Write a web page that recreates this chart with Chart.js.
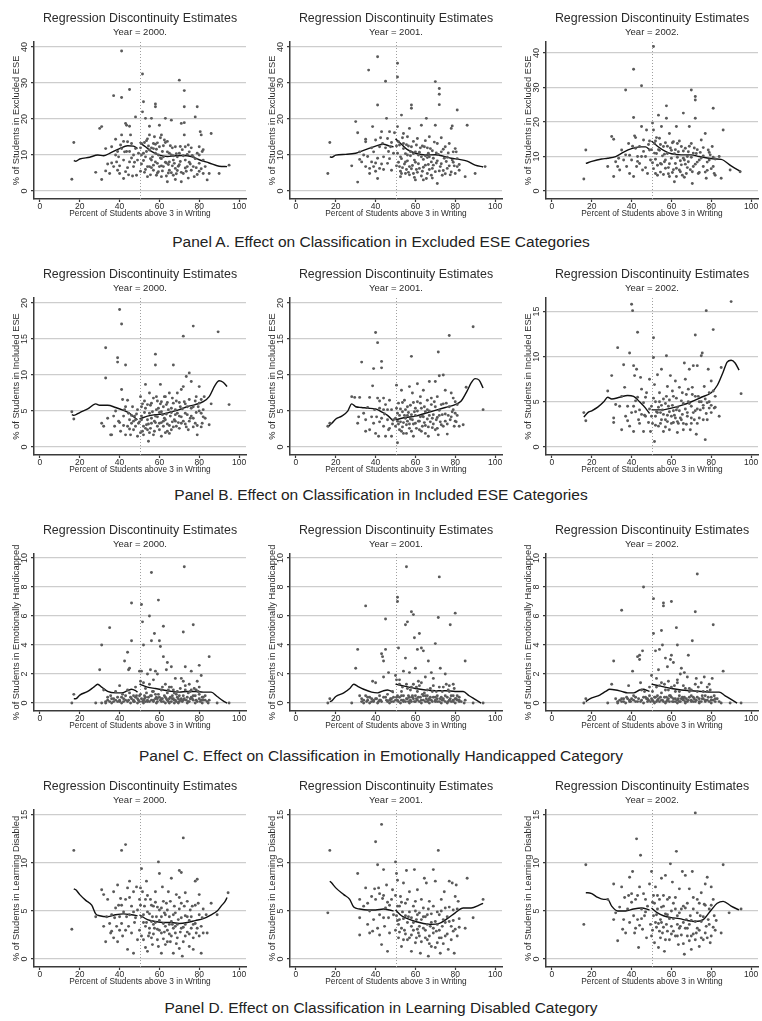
<!DOCTYPE html>
<html>
<head>
<meta charset="utf-8">
<script src="https://cdn.jsdelivr.net/npm/chart.js@4.4.0/dist/chart.umd.min.js"></script>
<style>
  body { margin: 0; background: #fff; width: 762px; height: 1021px; position: relative; overflow: hidden;
         font-family: "Liberation Sans", Arial, sans-serif; }
  canvas.plot { position: absolute; }
  .caption { position: absolute; left: 0; width: 762px; text-align: center; font-size: 15.5px; color: #222; }
</style>
</head>
<body>
<script>
// tick labels
const xTicks = [0, 20, 40, 60, 80, 100];
const yTicksExcl = [0, 10, 20, 30, 40];
const yTicksIncl = [0, 5, 10, 15, 20];
const yTicksIncl2002 = [0, 5, 10, 15];
const yTicksEmo = [0, 2, 4, 6, 8, 10];
const yTicksLd = [0, 5, 10, 15];
const years = ["2000", "2001", "2002"];

// school scatter points [percent above 3, % of students]
const exclEse2000 = [[16,3.3],[17,13.5],[28,5.2],[30,17.4],[31,17.9],[31,3.2],[33,11.8],[33,5.6],[34,7.5],[35,4.9],[36,12.3],[37,26.5],[37,6.8],[38,10],[38.5,8.1],[39,5.8],[39.5,9.5],[40,7],[40,4.9],[41,11.8],[41,38.9],[41,26],[41,15.6],[42,3.5],[42,8.6],[42.5,10.9],[43,5.4],[43,18.8],[43.5,18.3],[44,13.7],[45,8.1],[45,28.2],[45,18],[45.5,15.6],[46,13.2],[47,10],[47,6.8],[48,20.6],[48,11.8],[48.5,4.4],[49,8.6],[49.5,10.5],[51.5,32.5],[51,13.2],[51.5,22],[52,24.8],[53,20.2],[53,9.5],[54,6.8],[54,4],[55,15.6],[55,11.4],[55,18],[56,20.2],[56,8.6],[57,5.8],[57,13.2],[57.5,15.1],[58,23.4],[58,24.2],[58,10.5],[58.5,4.4],[59,7.7],[60,18.3],[60,12.3],[61,15.6],[61,4],[62,9.5],[62,6.8],[62.5,14.2],[63,20.2],[64,2.6],[64,10.9],[65,8.1],[65,5.8],[66,19.7],[66,10],[67,4.4],[67.5,7.7],[68,12.3],[68,6.3],[69,9.5],[70,30.8],[70,10.5],[71,18.8],[71,2.6],[72,4.9],[72.5,27.9],[72.5,23.4],[72.5,15.6],[72.5,19],[73,12.3],[73,8.6],[74,6.8],[75,10.9],[76,5.8],[77,9.5],[77.5,4],[78,20.6],[79,23.4],[80,12.3],[80,7.7],[80.5,16.5],[81,15.6],[82,8.6],[82,4.9],[83,6.8],[84,3.1],[85,4.9],[86,16],[90,4.9],[95,7.2],
  [50.5,12],[51,7.5],[52,10.5],[52.5,5.2],[53.5,14],[54.5,12.5],[55.5,9],[56,6.5],[57,11.8],[58,8.1],[59,13.4],[59.5,5.4],[60.5,9.2],[61,7],[61.5,11],[63,13.5],[63.5,7.8],[64.5,5],[65.5,12.6],[66.5,7],[67,9.8],[68.5,4.8],[69.5,6.9],[70.5,8.2],[71.5,11.5],[73.5,5.5],[74.5,12.8],[75.5,7.5],[76.5,9.9],[78.5,6.5],[79,10.5],[80,5.5],[81.5,11],[44,6.5],[46,9.2],[40.5,12.8],[38,14.4],[43.5,11],[46.5,4.2],[36,7.8],
  [50.5,5.5],[51,10],[52,8.5],[52.5,13.5],[53,6],[53.5,11],[54,14.5],[55,6.8],[55.5,4.5],[56,12],[56.5,9.5],[57,7.2],[58,13],[58.5,11.6],[59,5],[59.5,10],[60,6.8],[60.5,14.8],[61,9],[61.5,5.6],[62,12.6],[63,8],[63.5,4.2],[64,13.8],[64.5,7.4],[65,10.5],[66,5.1],[66.5,12],[67,8.6],[68,3.2],[68.5,10.4],[69,5.7],[70,7.3],[70.5,12.4],[71,5.2],[72,9.8],[73,6.4],[74,10.2],[74.5,3.6],[75,8],[76,12],[77,6.8],[78,9],[79,4.6],[80,10],[81,6.2],[82,11.5],[39,11],[42,13.8],[45,11],[47.5,8],[44.5,4.5]];
const exclEse2001 = [[16,4.9],[17,13.5],[28,7],[30,19.3],[31,16.2],[31,2.5],[32,10.9],[32,8.8],[33,8.1],[34,10],[35,6.8],[35,14.4],[35,13.7],[36.5,33.6],[37,6.3],[37,4.9],[38,8.1],[38.5,17.9],[39,10.9],[39,6.8],[40,14.2],[41,37.3],[41,23.9],[41,3.5],[41,9.1],[42,12.3],[42,6.3],[43,16.5],[43.5,13.2],[44,9.5],[45,30.5],[45.5,20.2],[46,14.6],[46,7.7],[47,16.5],[47.5,12.3],[48,5.8],[49,10.5],[49.5,16.2],[51,35.5],[51,31.7],[51,17.9],[51.5,13.7],[52,6.8],[52.5,9.5],[53,4.9],[53,21.1],[54,16],[54,11.8],[55,8.1],[55,4.9],[56,15.1],[56,10],[57,6.8],[57,17.4],[58,23.9],[58,23],[58,12.3],[59,4.9],[59.5,8.6],[60,10.9],[60,3.1],[61,14.6],[62,6.3],[63,18.3],[63,9.5],[64,3.1],[64.5,12.3],[65,7.2],[65.5,20.2],[66,4.9],[66.5,10.5],[67,15.1],[68,8.1],[68.5,6.3],[69,9.1],[70,30.4],[70,18.3],[71,2.1],[71,13.2],[72,26.9],[72,28.5],[72,24],[72.5,6.8],[73,10.9],[73.5,4.4],[74.5,9.1],[75,12.3],[76,6.3],[77,13.2],[78,17.4],[78.5,18.1],[78.5,8.6],[79,10.9],[80,4.9],[81,22.5],[80.5,10.9],[81,6.8],[82,5.8],[85,4],[86,18.3],[90,4.9],[95,6.8],
  [50.5,12.5],[51.5,8],[52.5,5.5],[53.5,14.8],[54.5,7.5],[55.5,12.9],[56.5,5.2],[57.5,9.8],[58.5,7.1],[59,13.8],[60.5,6],[61.5,10],[62.5,12],[63.5,5.5],[64,8.8],[65,14],[66,9.3],[67,6],[67.5,11.8],[68.5,3.6],[69.5,13.6],[70.5,7.8],[71.5,10.2],[73,14.8],[74,5.7],[75.5,8.2],[76.5,10.6],[77.5,4.5],[79.5,7],[44,6],[40,5.5],[46.5,11],[48,13.5],[36,9.6],[38,12],
  [50.5,7],[51,10.5],[52,12.8],[52.5,4],[53,9],[53.5,6.5],[54,13.2],[55,10.4],[55.5,6],[56,8.4],[56.5,12.5],[57,4.5],[57.5,11],[58,6.2],[59,10.4],[59.5,3.8],[60,8],[60.5,12.8],[61,5.2],[61.5,7.6],[62,10.8],[63,4.2],[63.5,12.5],[64,6.6],[65,9.8],[65.5,3.5],[66,12],[66.5,7.4],[67,9.5],[68,4.4],[68.5,11.2],[69,7.2],[70,5.4],[70.5,10.6],[71,8.4],[72,5.6],[73,7.6],[74,11.6],[75,4.8],[76,9.4],[77,7],[78,5.3],[79,8],[80,11.8],[81,9],[82,7.4],[40,7.8],[43,7.5],[45,12],[47,9],[42.5,14.8]];
const exclEse2002 = [[16,3.5],[17,11.9],[28,7.1],[30,15.8],[31,15],[31,4.2],[32,8.5],[33,7.1],[33.5,9.5],[34,6.1],[35,11.9],[37,29.3],[37,10.5],[37.5,7.1],[38.5,13.8],[39,5.1],[40,9],[41,35.3],[41,21.3],[41,4.2],[41.5,16],[42,12.4],[42.5,7.1],[43,10],[44,12.9],[45,30.5],[45,18.7],[45.5,6.1],[46,14.8],[47,10],[47.5,17.7],[48,5.1],[49,11.9],[49.5,9],[51,41.9],[50.5,19.7],[51,17.7],[51.5,13.8],[52,5.1],[52.5,10.9],[53.5,22],[54,15.3],[54.5,8],[55,18.7],[56,12.9],[57,6.6],[57.5,24.7],[57.5,21.1],[58,10.9],[59,16.7],[59,4.2],[60,9.5],[61,14.3],[61.5,2.7],[62,8],[62.5,18.7],[63.5,11.4],[64,6.1],[65,12.9],[66,22.6],[66.5,9],[67.5,5.1],[68.5,11.4],[69,18.7],[70,29.3],[70,13.8],[70.5,2.2],[71,7.1],[72,27.4],[72,26.4],[72,21.1],[72.5,10.9],[73.5,5.1],[74,9],[75,14.8],[76,7.1],[77,16.7],[77.5,3.7],[78.5,11.9],[79,9],[81,24],[80.5,12.9],[81,7.1],[81.5,5.1],[84,10],[85,3.7],[86,17.7],[89.5,6.1],[94.5,5.6],
  [50.5,8.2],[51.5,11],[52,14.5],[53,7.5],[53.5,12],[54.5,5.5],[55.5,10.2],[56.5,8.5],[57,14],[58.5,6.8],[59.5,12.5],[60.5,5.4],[61.5,10.8],[62.5,6.6],[63,13.8],[64.5,8.8],[65.5,4.6],[66,11.6],[67,7.8],[68,10],[69.5,6.2],[71.5,12.5],[73,8.4],[74.5,11.2],[76,10.2],[78,6],[79.5,10.5],[82,9.3],[44,8],[40.5,13],[46,11.5],[36,9],[42,15.5],[48.5,13.5],
  [50,12],[51,6.5],[52,9.2],[52.5,15.5],[53,4.6],[54,11.8],[54.5,13.5],[55,7.8],[56,4.8],[56.5,10.7],[57,9],[58,13],[58.5,5],[59,7.9],[60,11.8],[60.5,14],[61,6.2],[62,12],[62.5,4.2],[63,9.8],[64,14.5],[64.5,5.6],[65,7.6],[66,9.5],[66.5,4],[67,12.4],[68,6.8],[68.5,8.5],[69,13],[70,9.8],[70.5,5.6],[71,11],[72,7.8],[73,12],[74,5.4],[75,9.6],[76,12.6],[77,5.5],[78,8.4],[79,11.2],[80,6.5],[81,9.8],[82,4.6],[39,10.4],[43,8.6],[45,10],[47,6.8],[49,14.5]];

const inclEse2000 = [[16,4.9],[17,3.9],[31,3.3],[32,2.9],[33,9.6],[33,13.8],[34,4],[35.5,1.7],[36,1.7],[37,4.3],[38,5],[39,12.4],[39,11.8],[39.5,3.6],[40,19.1],[40.5,2.2],[41,17.1],[41,8],[41.5,6.6],[42,4.3],[43,11.4],[43,1.7],[43,5.6],[44,2.9],[44.5,4.7],[45,3.8],[45.5,1.7],[46,3.3],[46.5,5.6],[47,2.4],[47.5,4.3],[48,2.9],[49,1.5],[49,5.2],[49.5,3.3],[50.5,7],[51,5.6],[51,4.3],[52,2.9],[52,1.7],[53,8.7],[53,5.4],[54,3.8],[54,2.4],[54.5,0.8],[55,7.5],[55,4.7],[56,3.3],[56,6.1],[57,1.7],[58,12.9],[58,11.4],[58,4.3],[58.5,7],[59,2.9],[59.5,5.4],[60,3.3],[60.5,8.7],[61,6.3],[61,1.5],[61.5,4.5],[62,2.9],[62,5.6],[63,7],[63,3.8],[64,2.2],[64.5,5.2],[65,7.5],[65.5,4.3],[66,2.4],[67,11.4],[67,6.1],[67.5,3.8],[68,5.2],[68.5,2.9],[69,7.5],[70,4.3],[71,8],[71,3.3],[72,15.4],[72,8.4],[72.5,6.3],[73,4.7],[73.5,9.8],[74.5,2.4],[75,10.3],[75,6.6],[76,4.3],[76,9.1],[77,16.8],[77,5.6],[78,3.3],[78.5,7],[79,1.7],[80,6.1],[80,8.4],[81,4.7],[81.5,3.3],[82.5,7],[83,4],[85,3.1],[86,6],[89.5,16],[95,5.9],
  [50,3.5],[51.5,2.2],[52.5,6.4],[53.5,3.1],[55.5,2.6],[56.5,4.9],[57.5,3.6],[59,6.4],[60,4.8],[61,3.4],[62.5,4],[63.5,5.9],[64,3.2],[65,1.9],[66,5.4],[66.5,3.5],[68,4.5],[69.5,3.4],[70,6.2],[71.5,5.3],[73,3.2],[74,5.6],[75.5,4],[77,2.8],[78.5,4.8],[79.5,5.6],[81,6.6],[82,5.2],[44,6.5],[46,4.4],[48,3.8],[42,3],[37.5,2.9],
  [50.5,2],[51,3.8],[51.5,6],[52.5,4.8],[53,2.6],[54,5.9],[54.5,3.2],[55,2],[55.5,5.8],[56,4],[57,6.8],[57.5,2.2],[58,3.4],[58.5,5.2],[59,4.2],[60,2.4],[60.5,6],[61,4.9],[62,3.6],[62.5,7],[63,2],[63.5,4.6],[64,6.2],[65,3],[66,4.8],[66.5,6.8],[67,2.8],[68,3.6],[68.5,6.4],[69,4.7],[70,2.6],[70.5,5.6],[71,4.2],[72,3.6],[73,6],[73.5,2.8],[74,4.5],[75,3.6],[76,5.4],[77,4],[78,6.4],[79,3],[80,5],[81,2.8],[82,4.2],[45,2.5],[47,3.6],[42.5,5.2],[40,3.4],[48.5,4.6]];
const inclEse2001 = [[16,2.9],[17,3.3],[28,7],[29.5,6.9],[31,3.3],[31.5,4.2],[32,6.9],[33,11.8],[34,4.7],[35,2.2],[35,3.8],[36,5.5],[37,2.4],[38,4.2],[38.5,8.5],[39,10.9],[39,3.3],[40,15.9],[40,1.9],[41,14.5],[41,6.8],[41.5,1.5],[42,5.4],[43,11.9],[43,11],[43,4],[44,6.8],[44,2.9],[45,1.5],[45,5.9],[46,3.8],[47,2.6],[47,6.5],[48,5.2],[48,1.5],[49,3.8],[50,2.9],[50.5,8.6],[51,4.7],[51,0.6],[51.5,6.1],[52,2.4],[52.5,3.5],[53,7.9],[53.5,4.9],[54,1.9],[54.5,6.5],[55,4],[55.5,3.1],[56,5.6],[57,8.4],[57,2.6],[58,12.6],[58,4.5],[58.5,7.5],[59,1.5],[60,5.4],[60,3.3],[61,8.8],[61,6.3],[62,2.4],[62.5,4.2],[63,5.4],[63.5,2.9],[64,7.9],[65,1.9],[65,4.9],[66,6.5],[66.5,1.5],[67,9.1],[67.5,3.5],[68,5.9],[69,4.5],[70,2.4],[70,9.1],[71,7],[71.5,13.2],[71.5,1.7],[72,9.9],[72.5,3.5],[73,5.9],[74,10],[74,2.9],[75,7.9],[75.5,6.1],[76,1.8],[77,15.5],[77.5,3.8],[78,7.5],[79,5.2],[79.5,2.9],[80,6.3],[80,4.7],[81,5.9],[82,2.9],[84,3.1],[85.5,8.3],[89,16.7],[94,5.2],
  [50,4],[51.5,3.2],[52.5,5.3],[53.5,2.8],[54.5,4.4],[56,3.6],[56.5,4.8],[57.5,3.9],[59,3.2],[59.5,4.9],[61.5,3.6],[62.5,6.1],[63.5,4.3],[64.5,3.4],[66,3.9],[67,5],[68.5,2.7],[69.5,6.3],[71,4.1],[72,5.1],[73.5,4.5],[75,3.6],[76.5,4.4],[78.5,4.9],[80.5,3.5],[44.5,4.6],[46,5.2],[42,3.5],[37,6.9],[40.5,4.2],
  [50.5,5.4],[51,3.6],[52,4.4],[53,2.2],[53.5,6.2],[54,3.4],[55,5.2],[55.5,1.9],[56,4.4],[57,3.2],[57.5,5.8],[58,2.2],[58.5,3.8],[59,6.2],[60,4.4],[60.5,2.6],[61,5],[62,3.6],[62.5,7],[63,2.2],[64,4.2],[64.5,5.6],[65,3],[66,5.2],[66.5,2.8],[67,4.4],[68,6.8],[68.5,4],[69,3.2],[70,5.6],[70.5,3.8],[71,2.6],[72,4.4],[73,3.1],[74,6],[75,4.6],[76,3.2],[77,5.6],[78,4.2],[79,6.8],[80,3.6],[81,4.4],[46.5,2.4],[44,5.2],[42,6.4],[39.5,5.2],[48.5,3.2]];
const inclEse2002 = [[16,3.8],[17,2.9],[28,6.2],[30,7.9],[31,2.7],[31,3.2],[32,4.7],[33,11],[34,4.5],[35,1.9],[35,5.6],[36,9.1],[36.5,6.6],[37,3.4],[38,4.5],[39,10.4],[39,2.3],[40,15.8],[40,3.8],[40.5,15.1],[41,1.7],[41,9],[41.5,7.9],[42,5.1],[42.5,8.6],[43,12.7],[43.5,3],[44,4.1],[44.5,7.7],[45,6.4],[46,1.7],[46,4.9],[47,3.4],[47.5,6],[48.5,2.7],[49,7.5],[49.5,1.7],[50,4.5],[51,12.1],[51,9.9],[51.5,0.6],[51.5,6.9],[52,3.4],[53,8],[53.5,2.3],[54,6],[54.5,3.8],[55,8.6],[56,5.3],[56,1.7],[57,3],[57.5,10.1],[58,6.7],[58.5,4.5],[59,1.9],[59.5,7.9],[60,3.4],[61,5.6],[61,2.7],[62,7.3],[62.5,4.1],[63,1.6],[64,6.6],[64.5,3.2],[65,5.1],[66,1.9],[66.5,9.3],[67,7.5],[68,3.8],[68.5,6.4],[69,8.6],[69.5,1.9],[70,4.5],[71,9],[71.5,3],[72,12.4],[72.5,1.4],[73,9],[73.5,5.6],[74.5,4.1],[75,10.1],[75.5,10.4],[76,3],[76.5,6.7],[77,0.8],[77.5,15.1],[78,4.9],[78.5,8.6],[79,6],[80,3.8],[80,7.3],[81,13],[81.5,4.3],[82,5.6],[84,3.4],[85,8.8],[90,16.1],[95,5.9],
  [50.5,2.6],[52,5],[52.5,3.9],[53.5,4.4],[55,3],[55.5,4.1],[57,4.8],[58,2.8],[59,3.9],[60.5,4.6],[61.5,3.5],[63,4.4],[63.5,2.6],[65.5,3.6],[66,4.8],[67.5,2.5],[68.5,5],[70,3.2],[70.5,5.8],[72,4],[73,2.6],[74,5],[76,4.6],[77.5,3.7],[79,4.3],[44,2.6],[46.5,3.5],[38,2.9],[42,3.9],
  [50,3.4],[51,5.4],[52,2.4],[53,3.8],[54,5],[54.5,2.6],[55,4.6],[56,3.6],[57,2.2],[57.5,5.6],[58,3.5],[59,5.2],[60,2.6],[60.5,6.2],[61,4],[62,3.2],[62.5,5.4],[63,2.8],[64,4],[65,3],[65.5,6],[66,2.6],[67,4.2],[67.5,5.8],[68,3.4],[69,4.8],[70,2.6],[70.5,6.6],[71,3.8],[72,5.6],[73,4.2],[74,3.2],[75,5],[76,4.3],[77,5.3],[78,3],[79,5],[80,4.6],[81,6.2],[82,4.4],[45,3.6],[43,5.5],[41,4.5],[47,5.5],[49,4.2]];

const emoHand2000 = [[16,0],[17,0.6],[28,0],[30,2.3],[31,0],[31,4],[32,0.9],[33,0],[34,0.2],[35,5.2],[35.5,0.5],[36,0],[37,0.3],[38,0.8],[39,0.1],[40,1.2],[40,0.2],[41,0],[41.5,0.6],[42.5,2.9],[43,0.2],[44,0.9],[44,3.5],[44.5,2.3],[45,2.4],[45.5,0],[46,6.9],[46,4.3],[47,0.5],[47.5,0.1],[48,1.1],[49,0],[49,0.3],[50,2.2],[50.5,1.5],[51,2.2],[51,6.8],[51.5,5.6],[52,0],[52,4],[52.5,0.5],[53,1],[54,0.1],[54,2],[55,6],[55.5,2.3],[56,9],[56,4.3],[56,0.2],[57,1.6],[57.5,4.8],[58,0.6],[58,2.2],[58.5,0],[59,2],[59.5,7.1],[60,4.3],[60.5,3.9],[61,0.3],[61,0.9],[62,5.3],[62,3.2],[63,0],[63.5,2.3],[64,0.7],[64,2.8],[65,0],[65,1.1],[66,2.5],[66.5,0.3],[67,0.9],[67.5,0],[68,1.7],[68.5,0.6],[69.5,0],[70,0.5],[71,1.7],[72,4.9],[72,0.2],[72.5,9.4],[73,2.5],[73,0.9],[74,0],[74.5,0.7],[75,1.3],[76,2.2],[76.5,0.3],[77,5.4],[78,0],[78.5,0.9],[79,1.5],[80,0.6],[80,2.6],[81,1.9],[81.5,0],[82,0.2],[83,0.5],[84.5,0],[85,3.2],[89,0],[95,0],
  [33,0.1],[36,0.3],[37,0.1],[39,0.4],[40,0.1],[42,0.3],[43,0.5],[44,0.1],[46,0.3],[47,0.2],[48,0.4],[50,0.1],[51,0.3],[52,0.2],[53,0.4],[54,0.2],[55,0.1],[55.5,0.5],[57,0.2],[58,0.3],[59,0.1],[60,0.4],[60.5,0.2],[62,0.1],[62.5,0.5],[63.5,0.3],[64.5,0.1],[65.5,0.4],[66,0.1],[67,0.3],[68,0.2],[69,0.4],[70,0.1],[71,0.3],[72,0.5],[73.5,0.2],[75,0.1],[76,0.4],[77,0.2],[78,0.5],[79,0.1],[80,0.3],[81,0.2],[82,0.4],[84,0.1],[85,0.2],[50.5,0.6],[53.5,0.7],[56.5,0.8],[59.5,0.6],[61.5,1.1],[64.5,0.9],[67.5,0.7],[70.5,1],[73,1.2],[75.5,0.8],[77.5,1],[79.5,0.8],[55,1.3],[52,1.4],[48.5,0.5],[45,0.7],
  [34,0.4],[35,0.1],[38,0.2],[41,0.4],[42,0.1],[44.5,0.2],[45.5,0.4],[47,0.1],[49.5,0.2],[50,0.5],[51.5,0.1],[52.5,0.3],[53,0.1],[54.5,0.4],[56,0.5],[57,0.1],[58.5,0.4],[59,0.3],[61,0.1],[61.5,0.3],[63,0.4],[64,0.2],[65,0.3],[66.5,0.5],[67.5,0.2],[68.5,0.1],[69.5,0.3],[70.5,0.2],[71.5,0.1],[72.5,0.3],[74,0.4],[74.5,0.1],[75.5,0.3],[77,0.5],[78.5,0.2],[80.5,0.1],[81.5,0.4],[83,0.2],[57,0.8],[63,1.3],[66,1.1],[69,0.8],[72,1.5],[76,0.9],[80,1.1]];
const emoHand2001 = [[16,0],[17,0.3],[28,0],[30,2.4],[31,3.7],[32,0.5],[33,0.1],[34,0],[35,6.7],[35,0.5],[36,0.2],[37,0],[38,0.3],[38.5,1.5],[39,0.1],[40,1.4],[41,0],[42,0.5],[43,3.4],[43.5,3.2],[44,2.9],[44,1.8],[45,5.8],[45,3.7],[45.5,0.2],[46.5,2.1],[47,0],[48,0.3],[48.5,0.8],[49,0.1],[50,1.9],[50.5,1.6],[51,0.5],[51,7.3],[51,7],[51.5,3.8],[52,1.3],[52.5,0],[53,0.8],[54,2.2],[54,0.2],[55,5.4],[55,3.1],[55.5,9.4],[56,5.6],[56.5,0.5],[57,2.1],[57,0],[58,1.1],[58,6.3],[58.5,0.5],[59,6.1],[59.5,4.5],[60,0.1],[60,2.4],[61,3.7],[61,0.8],[61.5,1.5],[62,4.8],[63,3.8],[63,0],[63.5,0.6],[64,3.6],[65,1.8],[65,0.1],[66,0.5],[66.5,2.9],[67,0],[68,2.1],[68.5,0.8],[69,1.7],[70,0.2],[70,4.1],[71,0.5],[71.5,5.9],[72,8.7],[72.5,2.4],[73,0],[73.5,0.8],[74,0.3],[75,2],[75.5,1.3],[76,0],[77,0.8],[77.5,5.4],[78,0.5],[79,0.2],[79,1.3],[80,6.2],[80,0],[81,0.5],[82,0.1],[84.5,0],[85,2.9],[89,0],[94,0],
  [33,0.3],[35.5,0.1],[37,0.4],[39,0.2],[40,0.3],[41.5,0.1],[42.5,0.2],[44,0.4],[46,0.1],[47.5,0.3],[49,0.4],[50,0.2],[51.5,0.1],[52,0.4],[53,0.2],[54,0.5],[55,0.1],[56,0.3],[57,0.4],[58,0.1],[59,0.3],[60,0.5],[61,0.2],[62,0.1],[62.5,0.4],[64,0.2],[65,0.5],[66,0.1],[67,0.3],[68,0.2],[69,0.4],[70,0.1],[71,0.3],[72,0.1],[73,0.4],[74,0.2],[75,0.1],[76,0.4],[77,0.2],[78,0.1],[79,0.5],[80,0.3],[81,0.2],[82,0.4],[83,0.1],[85,0.2],[53.5,1.1],[57.5,0.9],[62,1.2],[64.5,0.7],[67.5,1],[70.5,0.8],[74,1.1],[76.5,0.9],[79.5,1],[52,1.6],[55.5,1.3],[60.5,1.1],[46,0.6],
  [34,0.2],[36,0.4],[38,0.1],[40.5,0.3],[42,0.2],[43,0.1],[45,0.4],[47,0.2],[48,0.1],[50.5,0.4],[51,0.2],[53,0.5],[54,0.1],[55.5,0.3],[56.5,0.1],[57.5,0.2],[58.5,0.4],[59.5,0.1],[60.5,0.3],[61.5,0.4],[63,0.2],[64,0.5],[65.5,0.3],[66.5,0.2],[67.5,0.4],[68.5,0.1],[70,0.4],[71,0.1],[72.5,0.3],[73.5,0.2],[75,0.5],[76.5,0.1],[77.5,0.3],[79,0.1],[80.5,0.3],[82,0.2],[56,1],[59,1.3],[63,1.4],[66,0.9],[69,1.2],[72,1.1],[77,1.2]];
const emoHand2002 = [[16,0],[17,0.3],[28,0],[30,1.3],[31,2.9],[32,0.3],[33,0],[35,6.4],[35,0.1],[36,0.3],[37,0],[38.5,1.2],[39,0.2],[40.5,2.2],[41,0.5],[42,0.1],[43,3.2],[44,3.3],[44,3],[44.5,1.4],[45.5,3.6],[46,8],[46,0],[46.5,0.8],[47.5,0.3],[48,0.1],[49,0.5],[50,1.9],[50.5,0.8],[51,7.2],[51,4.8],[51.5,0],[52,3.6],[52.5,1.7],[53,0.5],[53.5,2.3],[54,3.7],[54,0.1],[55,5],[55,0.7],[55.5,4],[56,6.9],[56,6.7],[56.5,1.3],[57,0],[57,3.1],[58,2.5],[58.5,1.5],[59,0.5],[59.5,3],[60,7],[60,3.3],[61,0.1],[61,2.8],[62,0.8],[62.5,5.2],[63,4],[63,1.6],[63,0],[64,0.5],[64.5,2],[65,2.4],[66,0.3],[66.5,2.1],[67,0],[68,1.8],[68.5,3.3],[69,0.8],[70,0.5],[70.5,4.3],[71,0.1],[72,6.3],[72.5,1.7],[73,8.9],[73,0.8],[74,0],[75,1.4],[75.5,0.5],[76.5,1.8],[77,0.1],[78,0.8],[79,1.3],[80,0],[80.5,1.7],[81,5.4],[81.5,0.5],[82,0.1],[85,0],[86,2.2],[89.5,0],[95,0],
  [34,0.2],[36,0.1],[37.5,0.4],[39.5,0.1],[40,0.3],[42,0.4],[43,0.1],[45,0.2],[47,0.4],[48.5,0.2],[50,0.3],[51,0.1],[52,0.4],[53,0.2],[54.5,0.4],[55.5,0.2],[56,0.1],[57.5,0.4],[58,0.2],[59,0.1],[60,0.4],[61,0.3],[62,0.1],[63.5,0.3],[64.5,0.1],[65.5,0.4],[66,0.2],[67.5,0.3],[68,0.1],[69,0.4],[70,0.2],[71.5,0.3],[72,0.1],[73,0.4],[74,0.3],[75,0.1],[76,0.3],[77,0.5],[78,0.2],[79,0.1],[80,0.4],[81,0.2],[83,0.3],[84,0.1],[52.5,1.1],[55,1.4],[58.5,0.9],[61.5,1.2],[64,0.8],[67,1],[70,0.9],[73.5,1.1],[76,0.8],[79.5,0.9],[49,1.1],[45,0.9],
  [33,0.1],[35,0.3],[38,0.3],[39,0.1],[41,0.2],[43.5,0.3],[44.5,0.1],[46,0.4],[48,0.3],[49.5,0.1],[50.5,0.2],[51.5,0.4],[52.5,0.1],[53.5,0.3],[55,0.2],[56.5,0.4],[57.5,0.1],[58.5,0.3],[59.5,0.5],[60.5,0.1],[62,0.3],[63,0.2],[64,0.1],[65,0.3],[66.5,0.4],[67,0.1],[68.5,0.2],[70,0.1],[71,0.4],[72.5,0.2],[74,0.1],[75.5,0.3],[77,0.2],[78.5,0.4],[80,0.2],[82,0.3],[54,1.2],[57,0.9],[60,1.1],[63,1.4],[66,1.2],[69,1],[72,1.3],[78,1.1]];

const learnDis2000 = [[16,3.1],[17,11.3],[28,4.4],[31,7.2],[32,6.7],[32,3.4],[33,1.8],[33.5,4.4],[34,6.2],[35,3.7],[35.5,2.7],[36,4.6],[37,7],[37,2.2],[38,5.3],[38.5,3.4],[39,1.8],[39,7.7],[40,4.4],[40,3],[41,11.3],[41,5.6],[41,3.7],[41.5,2.4],[43,11.9],[43,6.2],[43.5,4.4],[44,1],[44,7.4],[44.5,3.4],[45,8.1],[46,5.5],[46,2.7],[47,0.6],[47,7],[48,4.3],[48.5,7.5],[49,2],[49,5.1],[50,3],[50.5,7.4],[51,9.4],[51,4.4],[51.5,7],[52,2],[52.5,5.5],[53,3.4],[53.5,8.1],[54,0.8],[54,4.9],[55,2.7],[55.5,6.2],[56,3.9],[56.5,1.5],[57,5.5],[57.5,3.2],[58,7],[58.5,4.4],[59,2],[59.5,10.1],[60,8.9],[60,5.1],[61,2.7],[61,0.6],[61.5,7.5],[62,3.7],[63,1.5],[63.5,5.8],[64,3],[64.5,7],[65,4.4],[65.5,1.8],[66,8.4],[66.5,3.6],[67,0.6],[67.5,5.5],[68,2.7],[68.5,6.7],[69.5,4.1],[70,9.2],[70,1.1],[71,9],[71,3.2],[71.5,0.3],[72,12.6],[72.5,5.5],[73,6.9],[73,2.4],[74,4.4],[75,1.3],[75.5,5.1],[76,3.2],[76.5,5.5],[77,1],[78,8.1],[78,3.7],[79,8.3],[79.5,5.8],[80,2.4],[80,6.7],[81,0.6],[81.5,4.3],[82,2.7],[83.5,4.6],[84,2.7],[86,5.8],[89,4.6],[94.5,6.9],
  [50.5,5.6],[52,3.8],[53,6.2],[54.5,2.4],[55,4.7],[56,2.2],[57,3.6],[58,5.9],[59,3.1],[60,4],[61,5.3],[62,2.1],[62.5,4.8],[63,3.4],[64,5.1],[65,2.6],[66,3.9],[67,4.6],[68,3.4],[69,2.2],[70,5.2],[71,4.3],[72,3.3],[73,4.5],[74,2.8],[75,4],[77,3.6],[78.5,2.7],[45,4.6],[42,4.9],[39.5,5.6],[36,2.9],[47.5,3.8],
  [50,6.2],[51,2.4],[52,4.6],[53,1.2],[53.5,3.8],[54,6.6],[55,3.2],[56,5.6],[56.5,4.4],[57,2.6],[58,3.8],[59,5.4],[59.5,1.3],[60,3],[61,4.4],[62,6],[62.5,2.8],[63,4.6],[64,1.8],[65,3.6],[65.5,6],[66,2.4],[67,3.2],[68,4.8],[68.5,1.6],[69,3.6],[70,6.4],[70.5,2.8],[71,5.8],[72,1.8],[73,3.6],[74,6],[75,2.6],[76,4.4],[77,2.2],[78,5.6],[79,3.2],[80,4.6],[81,3.4],[82,5.2],[43,3],[45,6.4],[47,4.9],[40.5,6.3],[37.5,4.3]];
const learnDis2001 = [[16,4.8],[17,11.3],[31,8.9],[32,2.5],[32,6.2],[32,4.3],[34,5.5],[35,7.4],[36,3.6],[37,2.7],[37,5],[38,6.5],[39,4.1],[40,12.2],[40,6.2],[41,9.8],[41,3.2],[41.5,7.4],[42,4.6],[43,14],[43,1.5],[43.5,6.3],[44,9.3],[44.5,3.4],[45,5.3],[45.5,7.7],[46,0.8],[46.5,4.3],[47,2.7],[48,6.2],[48.5,7.2],[49,4.6],[50,10.1],[50,3],[50.5,8.9],[51,5.5],[51,8.2],[51.5,2.2],[52,4.1],[52.5,6.5],[53,1.3],[53.5,4.9],[54,7.9],[54.5,3],[55,5.8],[55.5,9.2],[56,2],[56.5,4.4],[57,7],[58,0.8],[58,3.4],[59,5.5],[59.5,9.3],[60,1.7],[60.5,4.1],[61,7.2],[61.5,2.7],[62,4.8],[62.5,0.6],[63,6.2],[64,3.2],[64.5,8.4],[65,4.4],[65.5,7.9],[66,2],[66.5,0.3],[67,6],[67.5,3.4],[68,1.3],[69,5.5],[69,9.3],[70,8.1],[70.5,2.9],[71,1.7],[71.5,11.3],[72,4.6],[72.5,0.6],[73,6.2],[73.5,3.4],[74.5,7],[75,2.4],[76,4.4],[76.5,1],[77,8.1],[78,3.4],[78.5,7.9],[79,5.1],[79.5,0.6],[80,6.5],[80.5,7.7],[81,2.4],[81.5,6],[82,4.2],[85,3.2],[86,8.4],[89,4.3],[94,6.2],
  [50.5,4.5],[51.5,3.6],[52,5.5],[53,3.2],[54,4.2],[55,2.6],[56,3.8],[57,4.9],[58,2.5],[59,3.8],[60,5],[61,3.1],[62,2.4],[63,4.1],[64,5.3],[65,3],[66,4.6],[67,2.4],[68,3.8],[69,2.7],[70,3.9],[71,4.9],[72,3],[73,2.2],[74,4.1],[75,5.3],[77,3.9],[79,2.9],[44,4.3],[46,5.9],[38.5,2.9],[42,6.8],
  [50,6.6],[51,4],[52,2.8],[53,5.9],[54,2],[55,4.5],[56,6.2],[57,2.2],[58,4.3],[59,3],[60,6],[60.5,2.2],[61,4.6],[62,3.4],[63,1.8],[64,4.4],[65,2.2],[66,3.6],[66.5,5.2],[67,1.6],[68,4.7],[69,3.2],[70,1.2],[71,3.6],[72,2.2],[73,5],[74,1.6],[75,3.8],[76,2.6],[77,5.4],[78,2],[79,4],[80,3.1],[81,5.2],[82,3.3],[42,2.5],[44,6.6],[47,5.6],[39.5,7.3],[36,5.8]];
const learnDis2002 = [[16,3.6],[17,9.8],[28,6.2],[31,7.8],[31,4.1],[32,4.8],[33,1.9],[34,5.4],[35,7.5],[35.5,3.1],[36,4.1],[37,2.7],[38,5.2],[39,8.5],[39,3.8],[40,6.8],[40.5,9.1],[41,4.5],[41.5,2.7],[42,6.2],[42.5,12.5],[43,4.1],[43.5,1.2],[44,7.5],[44.5,10.8],[45,5.2],[45.5,3.1],[46,6.8],[46.5,4.5],[47.5,2.2],[48,5.5],[49,7.8],[49.5,3.6],[50,9.1],[50.5,5.9],[51,4.5],[51.5,1.7],[52,7.5],[52.5,3.3],[53,5.2],[53.5,1.2],[54,6.2],[54.5,4.1],[55,8.4],[55.5,2.7],[56,5.5],[56.5,0.8],[57,8.7],[57.5,3.6],[58,6.2],[59,2],[59.5,9.9],[60,5],[60.5,8],[61,2.9],[62,6.4],[62.5,11.2],[63,4.5],[63.5,1.5],[64,7.3],[64.5,3.4],[65.5,9.1],[66,5.5],[66.5,0.5],[67,8.7],[67.5,4.1],[68,2.4],[69,7.3],[69.5,4.5],[70,1],[70.5,9.1],[71,5.2],[72,15.2],[72.5,2.7],[73,6.2],[74,1.3],[74.5,4.5],[75,6.9],[76,2],[76.5,5.7],[77,7.8],[77.5,3.4],[78,8.5],[79,5.2],[79.5,1.7],[80,7.5],[81,3.3],[81.5,4.5],[82.5,4],[85,2.7],[86,9.8],[89,4.8],[95,5.2],
  [50.5,3],[51.5,5.8],[52.5,4.6],[53.5,3.7],[54.5,2.2],[55,5.4],[56,3.3],[57,4.7],[58,2.9],[59,4.2],[60,3.4],[61,5.8],[62,2.4],[63,3.6],[64,4.8],[65,2.5],[66,3.8],[67,5.3],[68,3.2],[69,1.9],[70,4],[71,2.6],[72,3.9],[73,4.8],[74,3],[75,3.9],[77,2.7],[78.5,4.1],[80,2.4],[44,3.5],[47,4.9],[40,5.9],[36.5,6.4],
  [50,2.4],[51,6.6],[52,3.8],[53,6.6],[54,2.9],[55,3.8],[56,6.6],[57,2],[58,4.6],[59,6.4],[60,2.6],[61,4.2],[62,5.2],[63,2.4],[64,3.2],[65,5.2],[66,1.6],[67,3.2],[68,5.8],[69,3.6],[70,2.4],[71,6.4],[72,2],[73,3.2],[74,5.8],[75,2.2],[76,4.4],[77,5.6],[78,2.2],[79,3.6],[80,5.6],[81,6.2],[82,3],[43,6.6],[45,4.2],[47,6.2],[42,3.2],[38.5,6.6]];

// local fits, left and right of the 50 cutoff
const exclEseFit2000L = [[17,8.5],[18,8.3],[20,8.9],[25,9.4],[29,10],[32,9.8],[35,10.5],[40,11.8],[44,12.6],[47,12.5],[49,11.8]];
const exclEseFit2000R = [[50,13.5],[53,12.3],[56,11],[60,10],[64,9.6],[68,9.8],[72,9.9],[76,9.6],[80,8.7],[85,7.8],[90,6.9],[94,6.8]];
const exclEseFit2001L = [[17,9.5],[18,9.4],[20,10],[25,10.2],[30,10.5],[35,11.5],[40,12.5],[44,13],[47,12.5],[49,12.3]];
const exclEseFit2001R = [[50,14.5],[53,13],[56,11.5],[60,10.5],[65,10],[70,10.1],[74,9.7],[78,9.1],[82,8.8],[86,8.3],[90,7.2],[94,6.7]];
const exclEseFit2002L = [[17,8],[20,8.6],[25,9.3],[28,9.5],[32,10],[36,11.3],[40,12.3],[44,12.8],[47,12.8],[49,12]];
const exclEseFit2002R = [[50,14.5],[53,13],[57,11.5],[60,10.8],[65,10.5],[70,10.5],[74,10],[78,9.6],[82,9.3],[85,9.2],[90,7.3],[95,5.6]];
const inclEseFit2000L = [[16,4.5],[17,4.4],[20,4.8],[24,5.3],[28,6],[30,5.8],[34,5.8],[38,5.5],[42,5.1],[45,4.7],[47,4.2],[49,3.8]];
const inclEseFit2000R = [[50,3.9],[54,4.3],[58,4.5],[62,4.6],[66,4.9],[70,5.2],[74,5.6],[78,5.9],[82,6.3],[85,7],[88,8.6],[90,9.2],[92,9],[94,8.4]];
const inclEseFit2001L = [[16,2.8],[18,3.3],[20,3.9],[23,4.3],[26,5],[28,6],[30,5.6],[33,5.5],[36,5.4],[40,5.3],[43,4.9],[46,4.4],[49,3.6]];
const inclEseFit2001R = [[50,3.8],[55,4.1],[60,4.3],[65,4.7],[70,5.1],[75,5.5],[80,5.9],[83,6.4],[86,7.8],[88,8.9],[90,9.5],[92,9.3],[94,8.2]];
const inclEseFit2002L = [[16,3.3],[18,3.8],[20,4],[23,4.4],[26,5],[28,5.5],[30,5.3],[34,5.5],[38,5.7],[41,5.6],[44,5],[47,4.3],[49,3.7]];
const inclEseFit2002R = [[50,4.1],[55,4.1],[60,4.3],[65,4.6],[70,5],[75,5.5],[80,6],[83,6.8],[86,8.3],[88,9.4],[90,9.6],[92,9.3],[94,8.5]];
const emoHandFit2000L = [[17,0.3],[18,0.3],[20,0.55],[24,0.8],[27,1.1],[29,1.3],[31,1.1],[34,0.8],[38,0.7],[41,0.7],[44,0.85],[46,0.95],[48,0.85],[49,0.75]];
const emoHandFit2000R = [[50,1.3],[54,1.1],[58,1],[62,0.9],[66,0.8],[70,0.75],[74,0.8],[78,0.8],[82,0.75],[86,0.75],[89,0.45],[92,0.15],[94,0]];
const emoHandFit2001L = [[17,0.1],[18,0.15],[20,0.45],[24,0.7],[27,1],[29,1.3],[31,1.15],[34,0.95],[38,0.75],[41,0.7],[44,0.85],[46,0.9],[48,0.8],[49,0.7]];
const emoHandFit2001R = [[50,1.3],[55,1.15],[60,1],[65,0.9],[70,0.85],[75,0.85],[80,0.8],[84,0.8],[87,0.5],[90,0.25],[93,0]];
const emoHandFit2002L = [[17,0.1],[18,0.2],[20,0.35],[24,0.55],[27,0.8],[29,0.95],[32,0.9],[35,0.8],[38,0.7],[41,0.7],[44,0.9],[46,0.95],[48,0.85],[49,0.8]];
const emoHandFit2002R = [[50,1.3],[55,1.15],[60,1],[65,0.9],[70,0.85],[75,0.8],[80,0.75],[84,0.75],[87,0.5],[90,0.25],[93,0]];
const learnDisFit2000L = [[17,7.3],[18,7.2],[20,6.7],[23,6.1],[26,5.6],[28,4.7],[30,4.5],[34,4.4],[38,4.6],[42,4.7],[46,4.6],[49,4.5]];
const learnDisFit2000R = [[50,4.6],[54,4.1],[58,3.9],[62,3.8],[66,3.8],[70,3.7],[74,3.8],[78,4],[82,4.2],[86,4.6],[89,5],[91,5.5],[93,6],[94,6.4]];
const learnDisFit2001L = [[17,8.1],[18,7.9],[20,7.4],[24,6.7],[27,6.2],[29,5.4],[32,5.2],[36,5.1],[40,5.1],[44,5.2],[47,5.1],[49,5]];
const learnDisFit2001R = [[50,5.1],[53,4.5],[56,4.2],[60,3.9],[64,3.7],[68,3.6],[72,3.7],[76,4.2],[80,4.8],[84,5.3],[88,5.3],[92,5.6],[94,5.8]];
const learnDisFit2002L = [[17,6.9],[18,6.9],[20,6.8],[23,6.4],[26,6.2],[28,6.2],[30,5.5],[33,5],[37,5],[41,5.2],[45,5.3],[49,5.1]];
const learnDisFit2002R = [[50,5.3],[53,4.8],[56,4.5],[60,4.3],[64,4.2],[68,4],[72,3.9],[76,4.1],[80,5.1],[83,5.8],[86,6],[90,5.5],[94,5.1]];

// layout: one row per panel, three years per row
const family = '"Liberation Sans", Arial, sans-serif';
const ink = "#2b2b2b";
const rows = [
  { top: 0, capTop: 233, caption: "Panel A. Effect on Classification in Excluded ESE Categories",
    yTitle: "% of Students in Excluded ESE",
    plots: [
      { pts: exclEse2000, fitL: exclEseFit2000L, fitR: exclEseFit2000R, yMin: -2.2, yMax: 41.4, yTicks: yTicksExcl },
      { pts: exclEse2001, fitL: exclEseFit2001L, fitR: exclEseFit2001R, yMin: -2.2, yMax: 41.4, yTicks: yTicksExcl },
      { pts: exclEse2002, fitL: exclEseFit2002L, fitR: exclEseFit2002R, yMin: -2.3, yMax: 43.2, yTicks: yTicksExcl }] },
  { top: 256, capTop: 486, caption: "Panel B. Effect on Classification in Included ESE Categories",
    yTitle: "% of Students in Included ESE",
    plots: [
      { pts: inclEse2000, fitL: inclEseFit2000L, fitR: inclEseFit2000R, yMin: -1.1, yMax: 20.7, yTicks: yTicksIncl },
      { pts: inclEse2001, fitL: inclEseFit2001L, fitR: inclEseFit2001R, yMin: -1.1, yMax: 20.7, yTicks: yTicksIncl },
      { pts: inclEse2002, fitL: inclEseFit2002L, fitR: inclEseFit2002R, yMin: -0.9, yMax: 16.5, yTicks: yTicksIncl2002 }] },
  { top: 512, capTop: 747, caption: "Panel C. Effect on Classification in Emotionally Handicapped Category",
    yTitle: "% of Students in Emotionally Handicapped",
    plots: [
      { pts: emoHand2000, fitL: emoHandFit2000L, fitR: emoHandFit2000R, yMin: -0.55, yMax: 10.28, yTicks: yTicksEmo },
      { pts: emoHand2001, fitL: emoHandFit2001L, fitR: emoHandFit2001R, yMin: -0.55, yMax: 10.28, yTicks: yTicksEmo },
      { pts: emoHand2002, fitL: emoHandFit2002L, fitR: emoHandFit2002R, yMin: -0.55, yMax: 10.28, yTicks: yTicksEmo }] },
  { top: 768, capTop: 999, caption: "Panel D. Effect on Classification in Learning Disabled Category",
    yTitle: "% of Students in Learning Disabled",
    plots: [
      { pts: learnDis2000, fitL: learnDisFit2000L, fitR: learnDisFit2000R, yMin: -0.83, yMax: 15.5, yTicks: yTicksLd },
      { pts: learnDis2001, fitL: learnDisFit2001L, fitR: learnDisFit2001R, yMin: -0.83, yMax: 15.5, yTicks: yTicksLd },
      { pts: learnDis2002, fitL: learnDisFit2002L, fitR: learnDisFit2002R, yMin: -0.83, yMax: 15.5, yTicks: yTicksLd }] }
];

// title + year above each plot, centred on the plot region
const rdTitle = {
  id: "rdTitle",
  afterDraw(chart, args, opts) {
    const { ctx, chartArea } = chart;
    const cx = (chartArea.left + chartArea.right) / 2;
    ctx.save();
    ctx.fillStyle = ink;
    ctx.textAlign = "center";
    ctx.textBaseline = "middle";
    ctx.font = "12.4px " + family;
    ctx.fillText("Regression Discontinuity Estimates", cx, 19);
    ctx.font = "9.5px " + family;
    ctx.fillText("Year = " + opts.year + ".", cx, 32);
    ctx.restore();
  }
};

// stata-style vertical y tick labels, placed from the y scale
const yLabels = {
  id: "yLabels",
  afterDraw(chart) {
    const { ctx } = chart;
    const ys = chart.scales.y;
    ctx.save();
    ctx.fillStyle = ink;
    ctx.font = "9px " + family;
    ctx.textAlign = "center";
    ctx.textBaseline = "middle";
    ys.ticks.forEach((t) => {
      ctx.save();
      ctx.translate(ys.right - 9, ys.getPixelForValue(t.value));
      ctx.rotate(-Math.PI / 2);
      ctx.fillText(String(t.value), 0, 0);
      ctx.restore();
    });
    ctx.restore();
  }
};

// dotted line at the 50% cutoff
const cutoffLine = {
  id: "cutoffLine",
  beforeDatasetsDraw(chart) {
    const { ctx, chartArea, scales } = chart;
    const px = Math.round(scales.x.getPixelForValue(50)) + 0.5;
    ctx.save();
    ctx.strokeStyle = "#a0a0a0";
    ctx.lineWidth = 1;
    ctx.setLineDash([1, 2]);
    ctx.beginPath();
    ctx.moveTo(px, chartArea.top);
    ctx.lineTo(px, chartArea.bottom);
    ctx.stroke();
    ctx.restore();
  }
};

const toXY = (arr) => arr.map(([x, y]) => ({ x, y }));
const fitLine = (arr) => ({
  type: "line", data: toXY(arr), borderColor: "#111", borderWidth: 1.4,
  pointRadius: 0, tension: 0.4, cubicInterpolationMode: "monotone", fill: false
});

rows.forEach((row) => {
  row.plots.forEach((p, i) => {
    const canvas = document.createElement("canvas");
    canvas.className = "plot";
    canvas.width = 250;
    canvas.height = 222;
    canvas.style.left = i * 256 + "px";
    canvas.style.top = row.top + "px";
    document.body.appendChild(canvas);

    new Chart(canvas, {
      type: "scatter",
      data: {
        datasets: [
          { data: toXY(p.pts), pointRadius: 1.45, pointBackgroundColor: "#5a5a5a", pointBorderWidth: 0 },
          fitLine(p.fitL),
          fitLine(p.fitR)
        ]
      },
      options: {
        responsive: false,
        animation: false,
        devicePixelRatio: 1,
        layout: { padding: { top: 42, right: 3, bottom: 0, left: 0 } },
        plugins: {
          legend: { display: false },
          tooltip: { enabled: false },
          rdTitle: { year: years[i] }
        },
        scales: {
          x: {
            type: "linear", min: -3, max: 103.5,
            afterFit: (s) => { s.height = 23; },
            afterBuildTicks: (s) => { s.ticks = xTicks.map((v) => ({ value: v })); },
            border: { display: true, color: "#3a3a3a", width: 1.5 },
            grid: { display: true, drawOnChartArea: false, tickLength: 3, tickColor: "#3a3a3a", tickWidth: 1.2 },
            ticks: { font: { size: 8.5, family }, color: ink, padding: 0, maxRotation: 0, autoSkip: false },
            title: { display: true, text: "Percent of Students above 3 in Writing",
                     font: { size: 8.3, family }, color: ink, padding: { top: 0, bottom: 3 } }
          },
          y: {
            type: "linear", min: p.yMin, max: p.yMax,
            afterFit: (s) => { s.width = 34; },
            afterBuildTicks: (s) => { s.ticks = p.yTicks.map((v) => ({ value: v })); },
            border: { display: true, color: "#3a3a3a", width: 1.5 },
            grid: { color: "#cdcdcd", lineWidth: 1.2, tickLength: 3, tickColor: "#3a3a3a", tickWidth: 1.2 },
            ticks: { display: false },
            title: { display: true, text: row.yTitle, font: { size: 9.3, family }, color: ink,
                     padding: { top: 11, bottom: 0 } }
          }
        }
      },
      plugins: [rdTitle, yLabels, cutoffLine]
    });
  });

  const cap = document.createElement("div");
  cap.className = "caption";
  cap.style.top = row.capTop + "px";
  cap.textContent = row.caption;
  document.body.appendChild(cap);
});
</script>
</body>
</html>
